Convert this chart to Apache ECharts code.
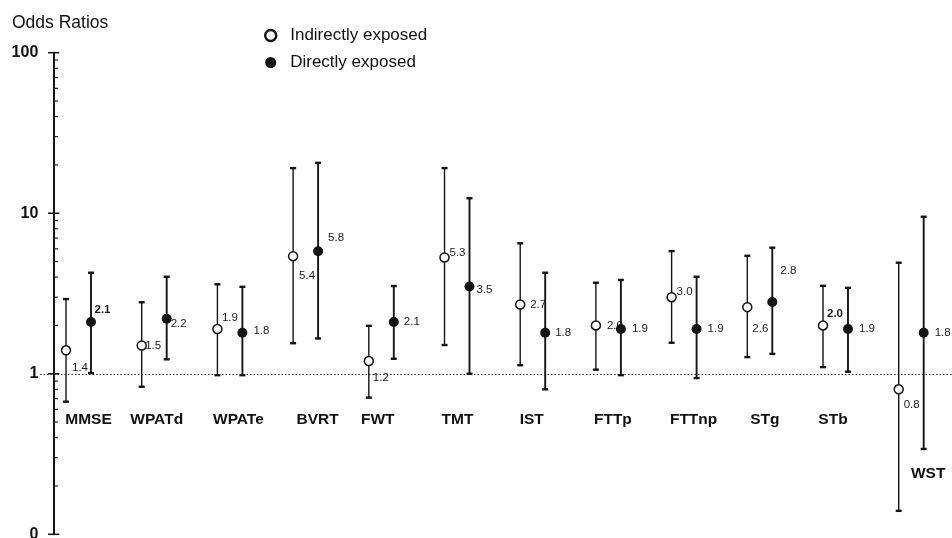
<!DOCTYPE html>
<html>
<head>
<meta charset="utf-8">
<script src="https://cdn.jsdelivr.net/npm/echarts@6/dist/echarts.min.js"></script>
<style>
html, body { margin: 0; padding: 0; background: #fff; }
#main { width: 952px; height: 538px; }
</style>
</head>
<body>
<div id="main"></div>
<script>
// tests, odds ratios and 95% CI
const tests = ['MMSE', 'WPATd', 'WPATe', 'BVRT', 'FWT', 'TMT', 'IST', 'FTTp', 'FTTnp', 'STg', 'STb', 'WST']
const indirectOR = [1.4, 1.5, 1.9, 5.4, 1.2, 5.3, 2.7, 2.0, 3.0, 2.6, 2.0, 0.8]
const indirectLow = [0.67, 0.83, 0.98, 1.55, 0.71, 1.51, 1.13, 1.06, 1.56, 1.27, 1.10, 0.14]
const indirectHigh = [2.92, 2.79, 3.61, 19.1, 1.99, 19.1, 6.5, 3.69, 5.81, 5.43, 3.53, 4.92]
const directOR = [2.1, 2.2, 1.8, 5.8, 2.1, 3.5, 1.8, 1.9, 1.9, 2.8, 1.9, 1.8]
const directLow = [1.01, 1.23, 0.98, 1.66, 1.24, 1.0, 0.80, 0.98, 0.94, 1.33, 1.03, 0.34]
const directHigh = [4.26, 4.02, 3.48, 20.6, 3.52, 12.4, 4.26, 3.84, 4.02, 6.1, 3.43, 9.51]
const majorTicks = [0.1, 1, 10, 100]
const majorTickLabels = ['0', '1', '10', '100']
const minorTicks = [0.2, 0.3, 0.4, 0.5, 0.6, 0.7, 0.8, 0.9, 2, 3, 4, 5, 6, 7, 8, 9, 20, 30, 40, 50, 60, 70, 80, 90]

// label placement (px offsets from the point), kept apart from the data
const indirectLabelOffset = [[6, 18], [3.5, 0], [4.5, -11], [6, 20], [4, 17], [5, -5], [10, 0], [11, 0], [5, -5], [5, 22], [4, -12], [5, 16]]
const directLabelOffset = [[3.5, -12], [4, 5], [11, -2], [10, -13], [10, 0], [7, 3], [10, 0], [11, 0], [11, 0], [8, -31], [11, 0], [11, 0]]
const boldIndirect = [10], boldDirect = [0]
const catLabelShift = [10, 2.5, 8.5, 12, -3.5, 0.5, -1, 4.5, 9.5, 5, -2.5, 17]
const catLabelY = [0.52, 0.52, 0.52, 0.52, 0.52, 0.52, 0.52, 0.52, 0.52, 0.52, 0.52, 0.239]

const FONT = '"Liberation Sans", Arial, Helvetica, sans-serif'
const INK = '#141414'
const X_MIN = -0.5086, X_MAX = 11.539, AXIS_SHIFT = 13.3, PAIR = 0.165

function errorBars(lows, highs, shift, width) {
  return {
    type: 'custom',
    silent: true,
    clip: false,
    z: 2,
    encode: { x: 0, y: [1, 2] },
    data: lows.map((lo, i) => [i + shift, lo, highs[i]]),
    renderItem(params, api) {
      const x = api.value(0)
      const top = api.coord([x, api.value(2)])
      const bot = api.coord([x, api.value(1)])
      const cap = 3
      return {
        type: 'group',
        children: [
          { type: 'line', shape: { x1: top[0], y1: top[1], x2: bot[0], y2: bot[1] }, style: { stroke: INK, lineWidth: width } },
          { type: 'line', shape: { x1: top[0] - cap, y1: top[1], x2: top[0] + cap, y2: top[1] }, style: { stroke: INK, lineWidth: 2.4 } },
          { type: 'line', shape: { x1: bot[0] - cap, y1: bot[1], x2: bot[0] + cap, y2: bot[1] }, style: { stroke: INK, lineWidth: 2.4 } }
        ]
      }
    }
  }
}

function points(name, vals, shift, offsets, bolds, itemStyle, size) {
  return {
    name,
    type: 'scatter',
    z: 3,
    symbol: 'circle',
    symbolSize: size,
    itemStyle: Object.assign({ opacity: 1 }, itemStyle),
    label: {
      show: true,
      position: 'inside',
      align: 'left',
      verticalAlign: 'middle',
      color: '#1a1a1a',
      fontSize: 11.5,
      fontFamily: FONT,
      formatter: p => p.value[1].toFixed(1)
    },
    data: vals.map((v, i) => ({
      value: [i + shift, v],
      label: { offset: offsets[i], fontWeight: bolds.includes(i) ? 'bold' : 'normal' }
    }))
  }
}

// short ticks across the axis line, drawn through the y scale
const axisTicks = {
  type: 'custom',
  silent: true,
  clip: false,
  z: 4,
  data: majorTicks.map(v => [v, 1]).concat(minorTicks.map(v => [v, 0])),
  encode: { y: 0 },
  renderItem(params, api) {
    const pt = api.coord([X_MIN, api.value(0)])
    const x = pt[0] + AXIS_SHIFT
    const major = api.value(1) === 1
    return {
      type: 'line',
      shape: { x1: major ? x - 5.3 : x, y1: pt[1], x2: major ? x + 6 : x + 4.7, y2: pt[1] },
      style: { stroke: INK, lineWidth: major ? 1.5 : 1.1 }
    }
  }
}

const chart = echarts.init(document.getElementById('main'))
chart.setOption({
  animation: false,
  textStyle: { fontFamily: FONT },
  title: {
    text: 'Odds Ratios',
    left: 7,
    top: 9.5,
    textStyle: { fontSize: 17.5, fontWeight: 'normal', color: '#111', fontFamily: FONT }
  },
  legend: {
    orient: 'vertical',
    left: 259,
    top: 22,
    itemWidth: 29,
    itemHeight: 11,
    itemGap: 10,
    icon: 'circle',
    textStyle: { fontSize: 17, color: '#111', fontFamily: FONT },
    data: [
      { name: 'Indirectly exposed', itemStyle: { color: '#fff', borderColor: INK, borderWidth: 2.4 } },
      { name: 'Directly exposed' }
    ]
  },
  grid: { left: 40, right: 0, top: 52.7, height: 481.6, outerBoundsMode: 'none' },
  xAxis: {
    type: 'value',
    min: X_MIN,
    max: X_MAX,
    show: false
  },
  yAxis: {
    type: 'log',
    logBase: 10,
    min: 0.1,
    max: 100,
    offset: -AXIS_SHIFT,
    axisLine: { show: true, onZero: false, lineStyle: { color: INK, width: 2 } },
    axisTick: { show: false },
    minorTick: { show: false },
    splitLine: { show: false },
    axisLabel: {
      margin: 15,
      fontSize: 16,
      fontWeight: 'bold',
      color: '#111',
      fontFamily: FONT,
      formatter: v => {
        const k = majorTicks.findIndex(t => Math.abs(t - v) < 1e-9)
        return k >= 0 ? majorTickLabels[k] : ''
      }
    }
  },
  series: [
    errorBars(indirectLow, indirectHigh, -PAIR, 1.4),
    errorBars(directLow, directHigh, PAIR, 1.9),
    axisTicks,
    points('Indirectly exposed', indirectOR, -PAIR, indirectLabelOffset, boldIndirect,
      { color: '#fff', borderColor: INK, borderWidth: 1.5 }, 9),
    Object.assign(points('Directly exposed', directOR, PAIR, directLabelOffset, boldDirect,
      { color: INK }, 10), {
      markLine: {
        silent: true,
        symbol: 'none',
        label: { show: false },
        lineStyle: { type: [1.5, 2], color: '#222', width: 1.2 },
        data: [{ yAxis: 1 }]
      }
    }),
    {
      type: 'scatter',
      silent: true,
      symbolSize: 1,
      itemStyle: { color: 'rgba(0,0,0,0)', opacity: 1 },
      label: {
        show: true,
        position: 'inside',
        formatter: '{b}',
        fontSize: 15.5,
        fontWeight: 'bold',
        color: '#111',
        fontFamily: FONT
      },
      data: tests.map((t, i) => ({ name: t, value: [i, catLabelY[i]], label: { offset: [catLabelShift[i], 0] } }))
    }
  ]
})
</script>
</body>
</html>
